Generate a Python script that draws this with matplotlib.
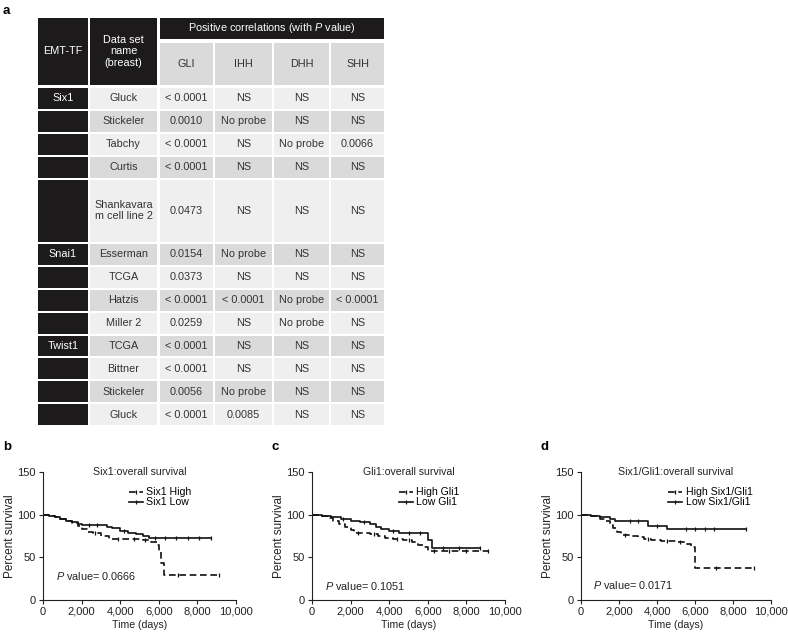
import numpy as np
import matplotlib
matplotlib.use("Agg")
import matplotlib.pyplot as plt
from matplotlib.patches import Rectangle
from matplotlib.lines import Line2D

plt.rcParams['font.family'] = ['Liberation Sans', 'DejaVu Sans']
plt.rcParams['mathtext.fontset'] = 'custom'
plt.rcParams['mathtext.rm'] = 'Liberation Sans'
plt.rcParams['mathtext.it'] = 'Liberation Sans:italic'

# ---- panel a: table ----
genes = ["GLI", "IHH", "DHH", "SHH"]
emt_tf = ["Six1", "", "", "", "", "Snai1", "", "", "", "Twist1", "", "", ""]
datasets = ["Gluck", "Stickeler", "Tabchy", "Curtis", "Shankavara\nm cell line 2",
            "Esserman", "TCGA", "Hatzis", "Miller 2", "TCGA", "Bittner", "Stickeler", "Gluck"]
p_gli = ["< 0.0001", "0.0010", "< 0.0001", "< 0.0001", "0.0473", "0.0154", "0.0373",
         "< 0.0001", "0.0259", "< 0.0001", "< 0.0001", "0.0056", "< 0.0001"]
p_ihh = ["NS", "No probe", "NS", "NS", "NS", "No probe", "NS", "< 0.0001", "NS",
         "NS", "NS", "No probe", "0.0085"]
p_dhh = ["NS", "NS", "No probe", "NS", "NS", "NS", "NS", "No probe", "No probe",
         "NS", "NS", "NS", "NS"]
p_shh = ["NS", "NS", "0.0066", "NS", "NS", "NS", "NS", "< 0.0001", "NS",
         "NS", "NS", "NS", "NS"]
row_units = [1, 1, 1, 1, 2.81, 1, 1, 1, 1, 1, 1, 1, 1]

# ---- panels b-d: survival curves (step points, days / percent) ----
six1_high_t = [0, 300, 600, 900, 1200, 1500, 1800, 2000, 2300, 2600, 3000, 3400, 3800,
               4500, 5200, 5600, 5900, 6000, 6100, 6250, 9100]
six1_high_s = [100, 99, 97, 95, 92, 90, 87, 83, 80, 78, 75, 72, 71,
               71, 70, 68, 64, 58, 43, 29, 29]
six1_high_cens = [2700, 3900, 4700, 5300, 7000, 9100]
six1_low_t = [0, 300, 600, 900, 1200, 1500, 1800, 2000, 3000, 3300, 3600, 4000,
              4400, 4800, 5200, 5500, 8700]
six1_low_s = [100, 99, 97, 95, 93, 91, 89, 88, 88, 86, 84, 81,
              79, 77, 75, 73, 73]
six1_low_cens = [2400, 2800, 4200, 5800, 6300, 6900, 7500, 8100, 8700]

gli1_high_t = [0, 400, 800, 1100, 1400, 1700, 2000, 2200, 3000, 3400, 3800, 4200,
               4700, 5200, 5500, 5800, 6000, 9100]
gli1_high_s = [100, 98, 96, 93, 89, 86, 82, 79, 77, 75, 73, 71,
               70, 68, 65, 62, 57, 57]
gli1_high_cens = [2400, 3200, 4400, 5000, 6300, 7100, 8000, 9100]
gli1_low_t = [0, 500, 1000, 1500, 2000, 2500, 3000, 3300, 3600, 4000, 4500, 6000, 6200, 8700]
gli1_low_s = [100, 99, 97, 95, 93, 91, 89, 86, 83, 81, 79, 70, 61, 61]
gli1_low_cens = [1600, 2700, 4200, 5000, 5600, 6800, 7600, 8700]

combo_high_t = [0, 500, 1000, 1300, 1500, 1700, 1900, 2100, 2600, 3000, 3300, 3700,
                4200, 5000, 5500, 5800, 6000, 9100]
combo_high_s = [100, 98, 95, 92, 88, 84, 80, 76, 75, 74, 72, 70,
                69, 68, 66, 62, 38, 38]
combo_high_cens = [2300, 3500, 4500, 5200, 7100, 9100]
combo_low_t = [0, 500, 1000, 1500, 1800, 3550, 4500, 8700]
combo_low_s = [100, 99, 97, 95, 92, 87, 83, 83]
combo_low_cens = [2600, 3000, 4000, 5500, 6000, 6500, 7000, 8700]

fig = plt.figure(figsize=(7.88, 6.35), dpi=100)
W, H = 788, 635

# background axes in pixel units for the table and panel letters
bg = fig.add_axes([0, 0, 1, 1])
bg.set_xlim(0, W)
bg.set_ylim(H, 0)
bg.axis('off')

black = '#1c1a1a'
light = '#efefef'
dark = '#dadada'
txt = '#333333'
fs = 7.8

cols = [(38, 88), (90, 157), (160, 213), (215, 272), (274, 329), (331, 384)]


def cell(x0, x1, y0, y1, color, text='', tcolor=txt, ls=1.1):
    bg.add_patch(Rectangle((x0, y0), x1 - x0, y1 - y0, facecolor=color, edgecolor='none'))
    if text:
        bg.text((x0 + x1) / 2, (y0 + y1) / 2, text, ha='center', va='center',
                fontsize=fs, color=tcolor, linespacing=ls)


bg.text(3, 11, "a", fontsize=9.5, fontweight='bold', va='center', ha='left')

# header
cell(cols[0][0], cols[0][1], 18, 84.5, black, "EMT-TF", 'white')
cell(cols[1][0], cols[1][1], 18, 84.5, black, "Data set\nname\n(breast)", 'white', 1.2)
cell(cols[2][0], cols[5][1], 18, 38.5, black,
     "Positive correlations (with $\\it{P}$ value)", 'white')
for (x0, x1), g in zip(cols[2:], genes):
    cell(x0, x1, 43, 85, dark, g)

# body
pitch = 22.9
y = 88
for i in range(len(datasets)):
    h = row_units[i] * pitch - 2
    shade = light if i % 2 == 0 else dark
    cell(cols[0][0], cols[0][1], y, y + h, black, emt_tf[i], 'white')
    vals = [datasets[i], p_gli[i], p_ihh[i], p_dhh[i], p_shh[i]]
    for (x0, x1), v in zip(cols[1:], vals):
        cell(x0, x1, y, y + h, shade, v)
    y += row_units[i] * pitch


def survival_panel(box, letter, title, curves, pval, pval_y, leg_x):
    x0, y0, x1, y1 = box
    ax = fig.add_axes([x0 / W, 1 - y1 / H, (x1 - x0) / W, (y1 - y0) / H])
    handles = []
    for t, s, cens, ls, lab in curves:
        dash = (0, (4, 2.2)) if ls == 'dashed' else '-'
        ax.plot(t, s, drawstyle='steps-post', color='#111111', lw=1.2, linestyle=dash)
        idx = np.searchsorted(t, cens, side='right') - 1
        ax.plot(cens, np.array(s)[idx], linestyle='none', marker='|', ms=3,
                mew=0.9, color='#111111')
        handles.append(Line2D([], [], color='#111111', lw=1.2, linestyle=dash,
                              marker='|', ms=3, mew=0.9, label=lab))
    ax.set_xlim(0, 10000)
    ax.set_ylim(0, 150)
    ax.set_xticks([0, 2000, 4000, 6000, 8000, 10000])
    ax.set_xticklabels([f"{v:,}" for v in [0, 2000, 4000, 6000, 8000, 10000]])
    ax.set_yticks([0, 50, 100, 150])
    for sp in ['top', 'right']:
        ax.spines[sp].set_visible(False)
    for sp in ['left', 'bottom']:
        ax.spines[sp].set_linewidth(0.8)
        ax.spines[sp].set_color('#222222')
    ax.tick_params(direction='out', length=3, width=0.8, labelsize=8,
                   colors='#222222', pad=2)
    ax.set_xlabel("Time (days)", fontsize=7.6, color='#222222', labelpad=2)
    ax.set_ylabel("Percent survival", fontsize=8.5, color='#222222', labelpad=1)
    ax.text(0.5, 1.0, title, transform=ax.transAxes, ha='center', va='center',
            fontsize=7.6, color='#222222')
    ax.legend(handles=handles, loc='upper left', bbox_to_anchor=(leg_x, 0.88),
              frameon=False, fontsize=7.6, handlelength=1.3, handletextpad=0.35,
              labelspacing=0.0, borderaxespad=0, borderpad=0)
    ax.text(0.065, pval_y, f"$\\it{{P}}$ value= {pval}", transform=ax.transAxes,
            fontsize=7.8, color='#222222', va='center')
    bg.text(x0 - 40, 447, letter, fontsize=9.5, fontweight='bold', va='center', ha='left')
    return ax


survival_panel((43, 472, 236, 600), "b", "Six1:overall survival",
               [(six1_high_t, six1_high_s, six1_high_cens, 'dashed', "Six1 High"),
                (six1_low_t, six1_low_s, six1_low_cens, 'solid', "Six1 Low")],
               "0.0666", 0.185, 0.445)
survival_panel((312, 472, 505, 600), "c", "Gli1:overall survival",
               [(gli1_high_t, gli1_high_s, gli1_high_cens, 'dashed', "High Gli1"),
                (gli1_low_t, gli1_low_s, gli1_low_cens, 'solid', "Low Gli1")],
               "0.1051", 0.11, 0.45)
survival_panel((581, 472, 771, 600), "d", "Six1/Gli1:overall survival",
               [(combo_high_t, combo_high_s, combo_high_cens, 'dashed', "High Six1/Gli1"),
                (combo_low_t, combo_low_s, combo_low_cens, 'solid', "Low Six1/Gli1")],
               "0.0171", 0.115, 0.46)

fig.savefig("out.png", dpi=100)
